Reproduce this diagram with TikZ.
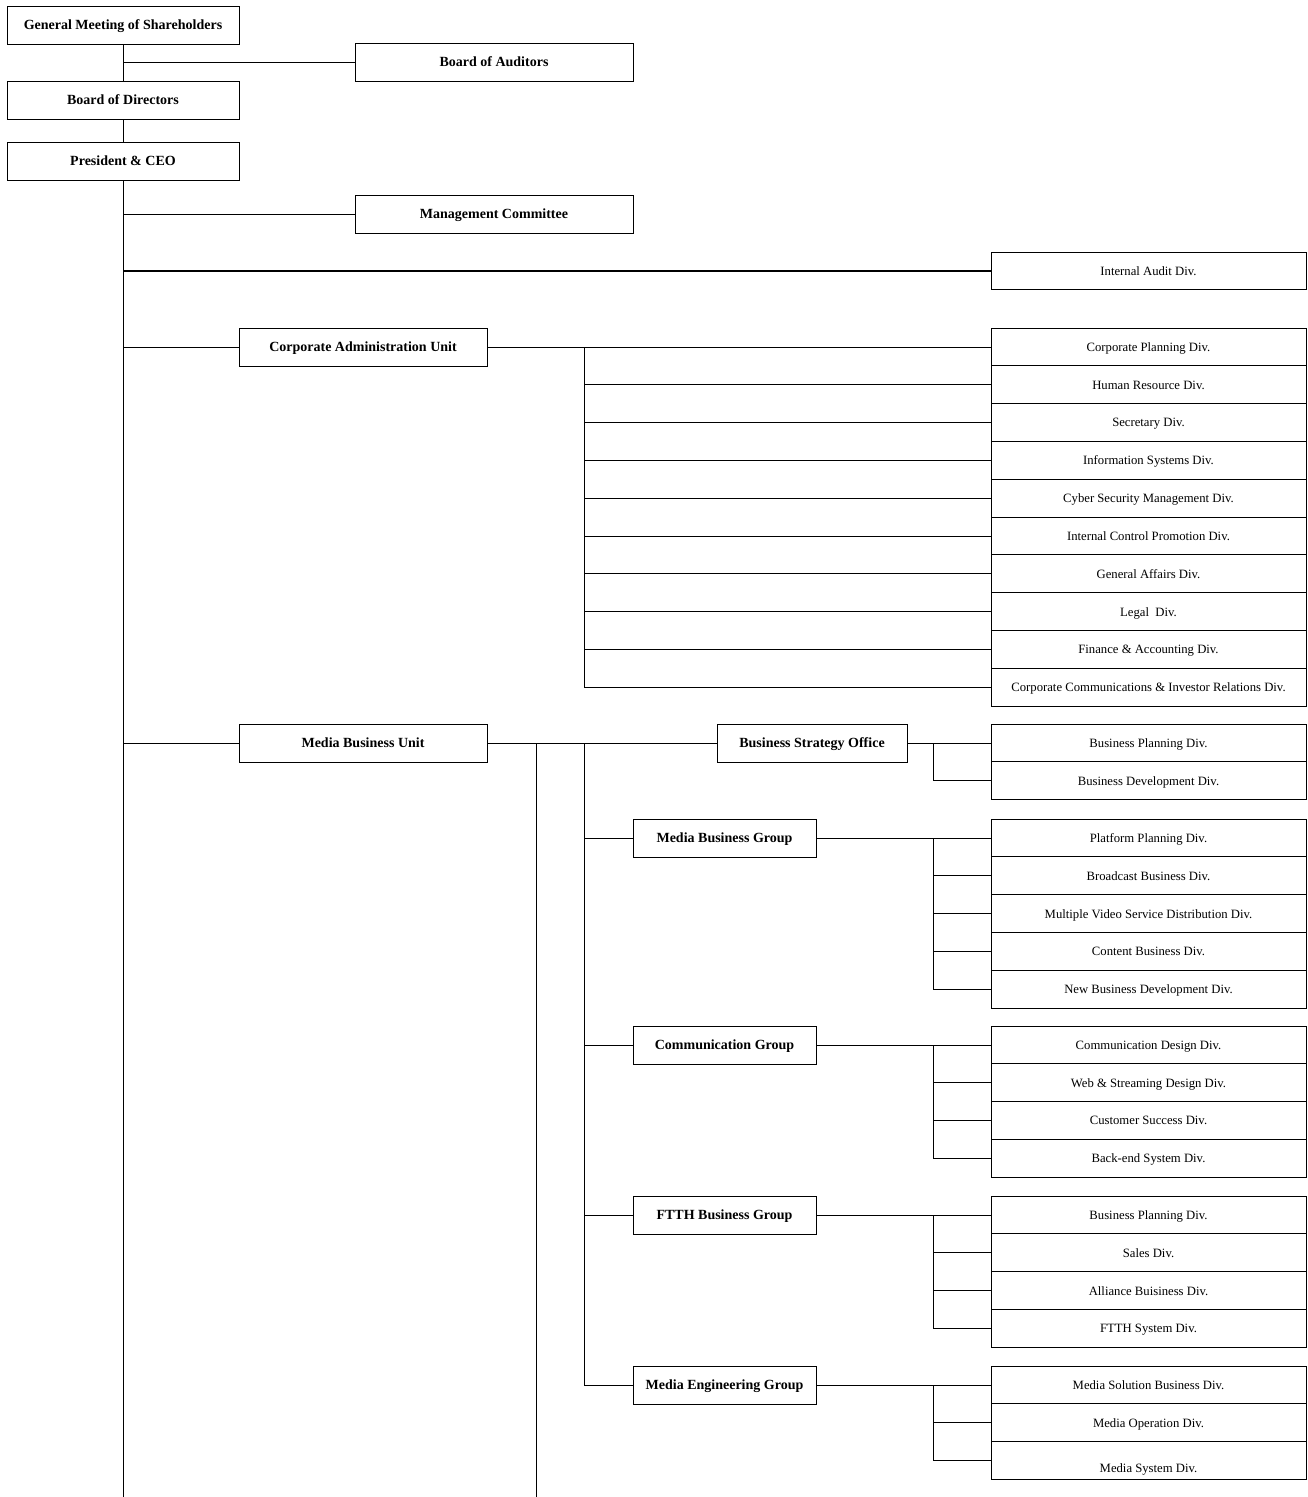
\documentclass[tikz,border=0pt]{standalone}
\usepackage{fontspec}
\setmainfont{Liberation Serif}
\usepackage{tikz}
\usetikzlibrary{chains,positioning}
\tikzstyle{unitbox}=[rectangle, draw=black, line width=1pt, minimum height=38pt, inner sep=0pt, outer sep=0pt,
        text centered, text depth=0pt, font=\fontsize{14}{16}\selectfont\bfseries]
\tikzstyle{divbox}=[rectangle, draw=black, line width=1pt, minimum width=315pt, minimum height=37.8pt, inner sep=0pt,
        outer sep=0pt, text centered, text depth=0pt, font=\fontsize{12.7}{14}\selectfont]
\tikzstyle{link}=[draw=black, line width=1pt]

\begin{document}
\begin{tikzpicture}[x=1pt, y=-1pt, node distance=0pt,
			start chain=cadm going below, start chain=bso going below, start chain=mbg going below,
			start chain=cmg going below, start chain=ftth going below, start chain=meg going below]
\useasboundingbox (0,0) rectangle (1308,1497);

% top of the chart
\node [unitbox, minimum width=232pt] (gms) at (123,25) {General Meeting of Shareholders};
\node [unitbox, minimum width=278pt] (boa) at (494,62) {Board of Auditors};
\node [unitbox, minimum width=232pt] (bod) at (123,100) {Board of Directors};
\node [unitbox, minimum width=232pt] (ceo) at (123,161) {President \& CEO};
\node [unitbox, minimum width=278pt] (mc) at (494,214) {Management Committee};
\node [divbox] (iad) at (1148.5,271) {Internal Audit Div.};

% corporate administration
\node [unitbox, minimum width=248pt] (cau) at (363,347) {Corporate Administration Unit};
\node [divbox, on chain=cadm] (cp) at (1148.5,347) {Corporate Planning Div.};
\node [divbox, on chain=cadm] (hr) {Human Resource Div.};
\node [divbox, on chain=cadm] (sec) {Secretary Div.};
\node [divbox, on chain=cadm] (is) {Information Systems Div.};
\node [divbox, on chain=cadm] (csm) {Cyber Security Management Div.};
\node [divbox, on chain=cadm] (icp) {Internal Control Promotion Div.};
\node [divbox, on chain=cadm] (ga) {General Affairs Div.};
\node [divbox, on chain=cadm] (leg) {Legal~ Div.};
\node [divbox, on chain=cadm] (fa) {Finance \& Accounting Div.};
\node [divbox, on chain=cadm] (ccir) {Corporate Communications \& Investor Relations Div.};

% media business
\node [unitbox, minimum width=248pt] (mbu) at (363,743) {Media Business Unit};
\node [unitbox, minimum width=190pt] (bso) at (812,743) {Business Strategy Office};
\node [divbox, on chain=bso] (bp) at (1148.5,743) {Business Planning Div.};
\node [divbox, on chain=bso] (bd) {Business Development Div.};

\node [unitbox, minimum width=183pt] (mbg) at (724.5,838) {Media Business Group};
\node [divbox, on chain=mbg] (pp) at (1148.5,838) {Platform Planning Div.};
\node [divbox, on chain=mbg] (bb) {Broadcast Business Div.};
\node [divbox, on chain=mbg] (mvs) {Multiple Video Service Distribution Div.};
\node [divbox, on chain=mbg] (cb) {Content Business Div.};
\node [divbox, on chain=mbg] (nbd) {New Business Development Div.};

\node [unitbox, minimum width=183pt] (cmg) at (724.5,1045) {Communication Group};
\node [divbox, on chain=cmg] (cd) at (1148.5,1045) {Communication Design Div.};
\node [divbox, on chain=cmg] (wsd) {Web \& Streaming Design Div.};
\node [divbox, on chain=cmg] (cs) {Customer Success Div.};
\node [divbox, on chain=cmg] (bes) {Back-end System Div.};

\node [unitbox, minimum width=183pt] (ftth) at (724.5,1215) {FTTH Business Group};
\node [divbox, on chain=ftth] (fbp) at (1148.5,1215) {Business Planning Div.};
\node [divbox, on chain=ftth] (sal) {Sales Div.};
\node [divbox, on chain=ftth] (ab) {Alliance Buisiness Div.};
\node [divbox, on chain=ftth] (fs) {FTTH System Div.};

\node [unitbox, minimum width=183pt] (meg) at (724.5,1385) {Media Engineering Group};
\node [divbox, on chain=meg] (msb) at (1148.5,1385) {Media Solution Business Div.};
\node [divbox, on chain=meg] (mo) {Media Operation Div.};
\node [divbox, on chain=meg, text height=26pt, text depth=3pt] (ms) {Media System Div.};

% connectors
\coordinate (ceoend) at (122,1497);
\coordinate (cbus) at (584,347);
\coordinate (mbus) at (584,743);
\coordinate (mend) at (536,1497);
\coordinate (gbus) at (933,743);

\draw [link] (gms) -- (bod);
\draw [link] (gms.south |- boa.west) -- (boa.west);
\draw [link] (bod) -- (ceo);
\draw [link] (ceo.south) -- (ceo.south |- ceoend);
\draw [link] (ceo.south |- mc.west) -- (mc.west);
\draw [link, line width=1.6pt] (ceo.south |- iad.west) -- (iad.west);
\draw [link] (ceo.south |- cau.west) -- (cau.west);
\draw [link] (ceo.south |- mbu.west) -- (mbu.west);

\draw [link] (cau.east) -- (cp.west);
\draw [link] (cbus) -- (cbus |- ccir.west);
\foreach \d in {hr,sec,is,csm,icp,ga,leg,fa,ccir}
  \draw [link] (cbus |- \d.west) -- (\d.west);

\draw [link] (mbu.east) -- (bso.west);
\draw [link] (mend |- mbu.east) -- (mend);
\draw [link] (mbus) -- (mbus |- meg.west);
\foreach \g in {mbg,cmg,ftth,meg}
  \draw [link] (mbus |- \g.west) -- (\g.west);

\draw [link] (bso.east) -- (bp.west);
\draw [link] (gbus) -- (gbus |- bd.west) -- (bd.west);

\foreach \g/\a/\z in {mbg/pp/nbd, cmg/cd/bes, ftth/fbp/fs, meg/msb/ms} {
  \draw [link] (\g.east) -- (\a.west);
  \draw [link] (gbus |- \a.west) -- (gbus |- \z.west);
}
\foreach \d in {bb,mvs,cb,nbd,wsd,cs,bes,sal,ab,fs,mo,ms}
  \draw [link] (gbus |- \d.west) -- (\d.west);

\end{tikzpicture}
\end{document}
